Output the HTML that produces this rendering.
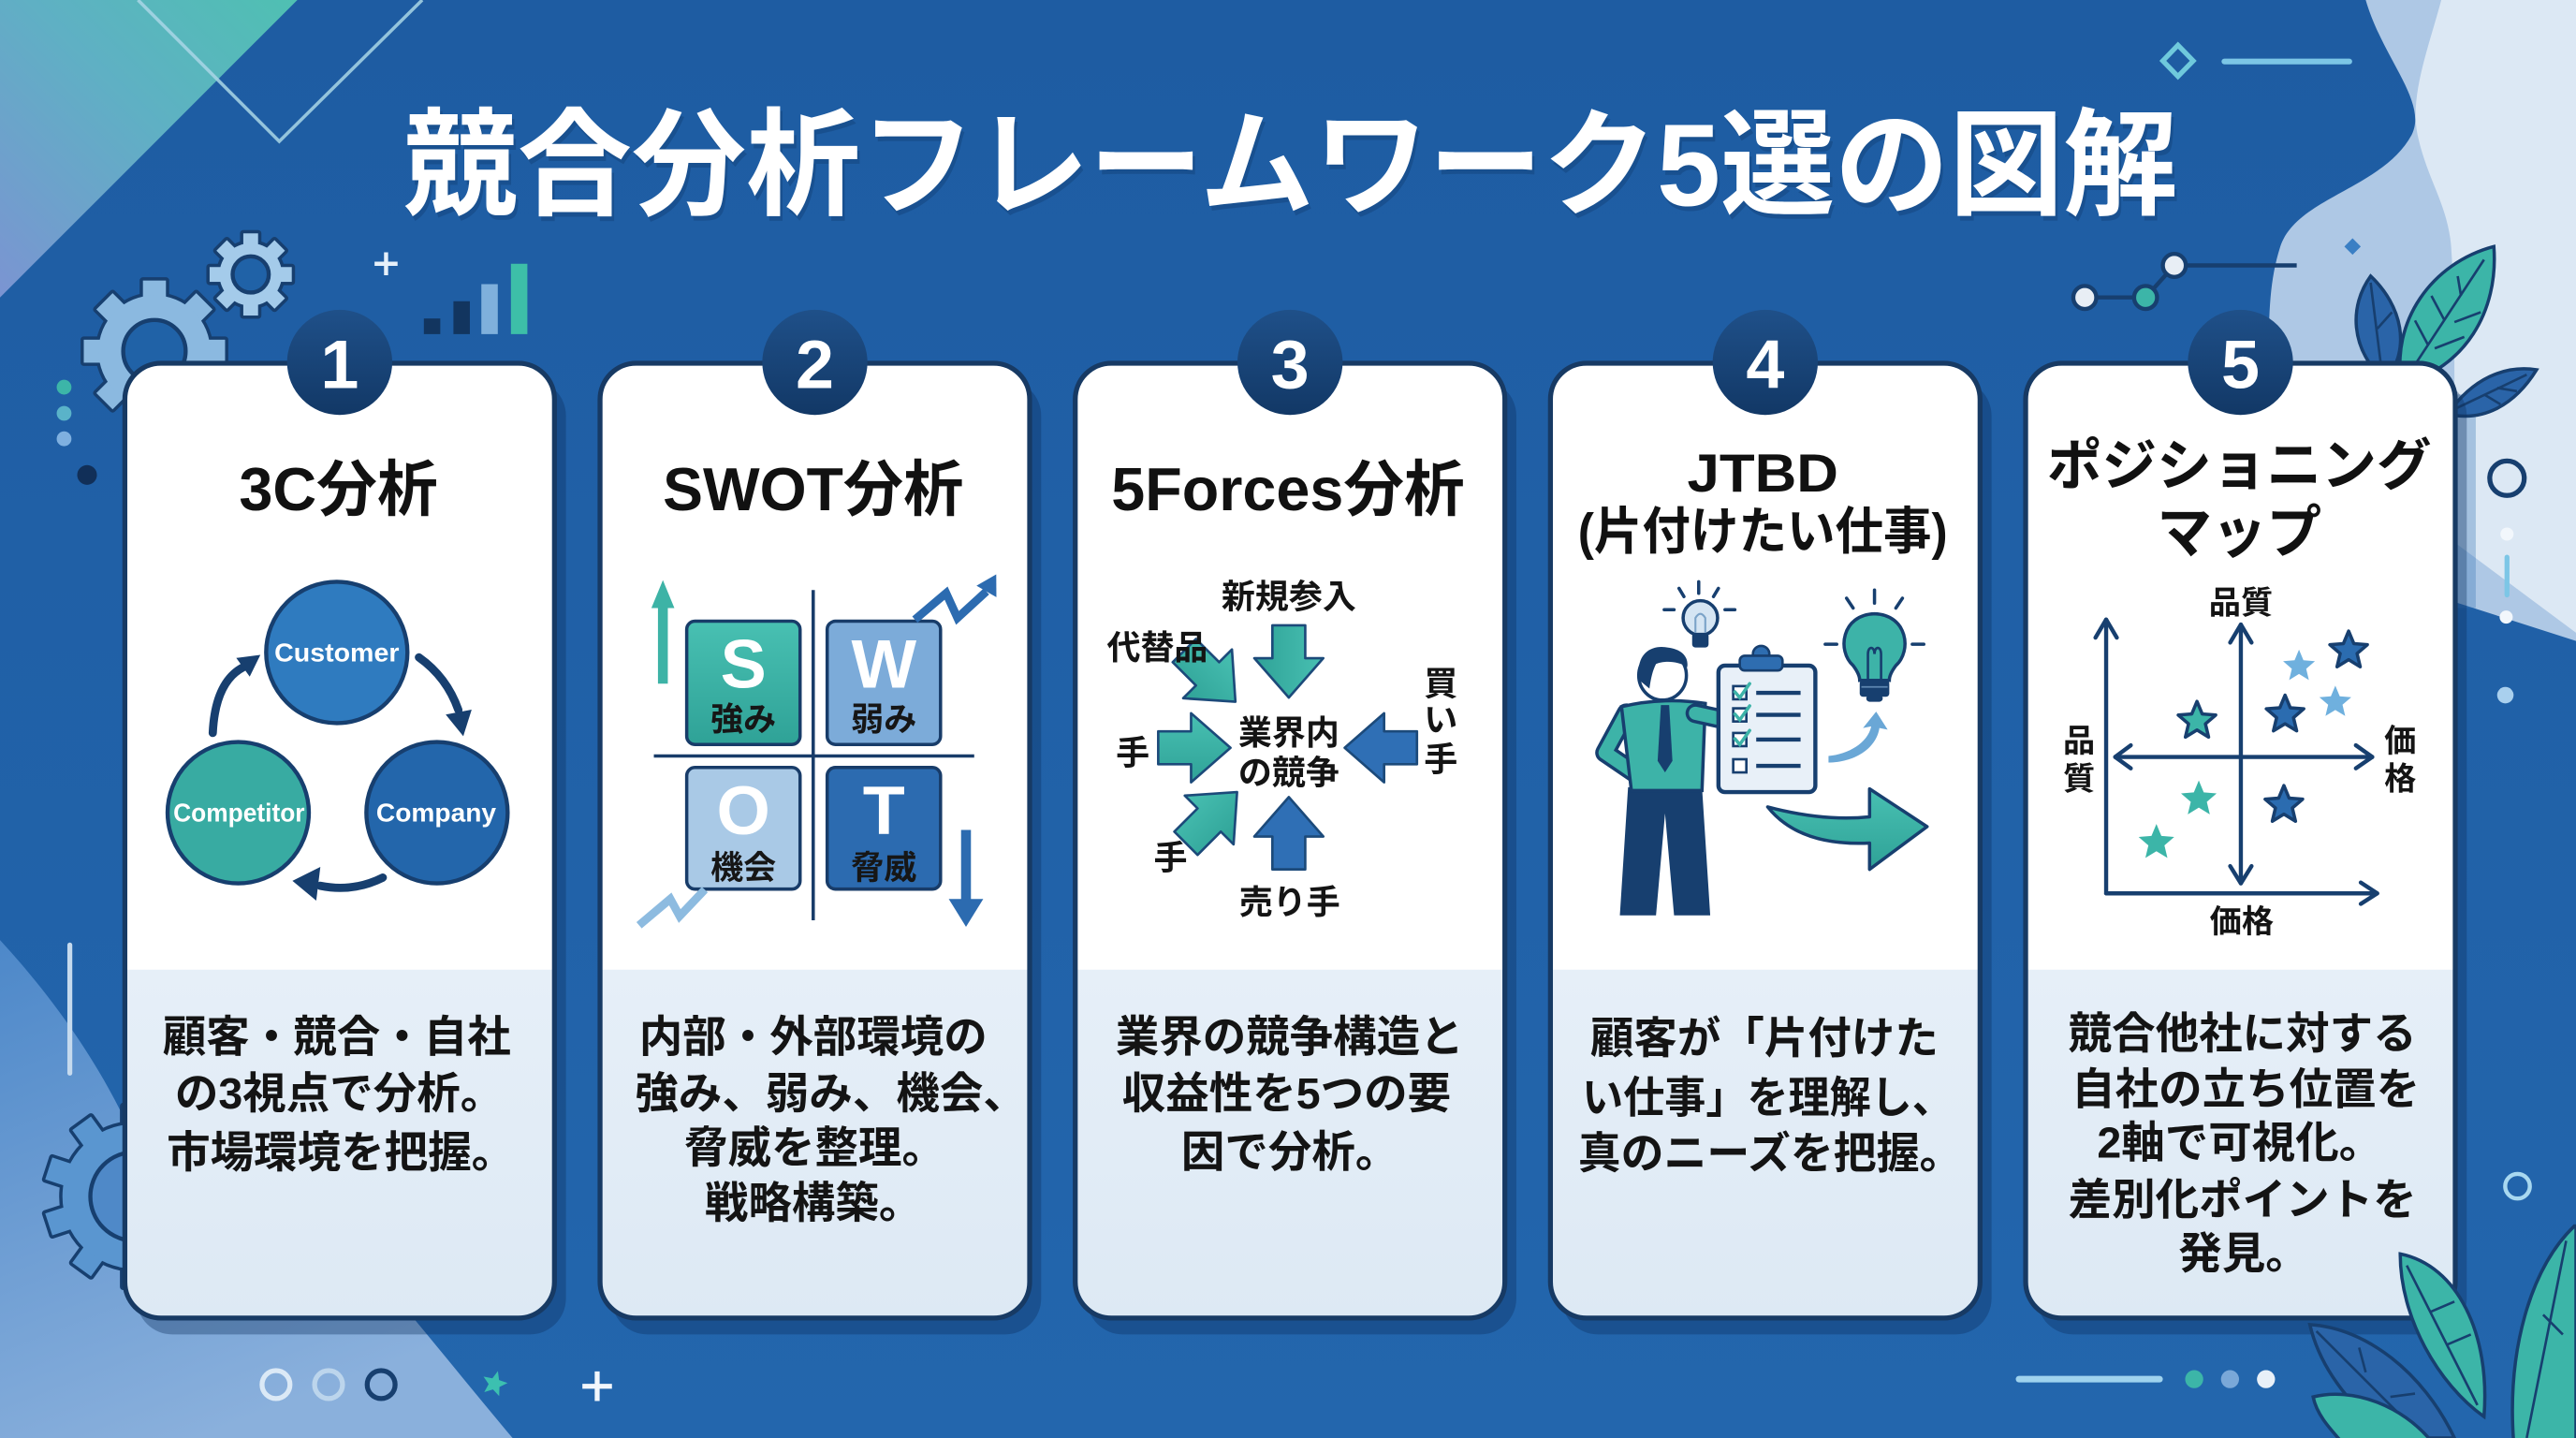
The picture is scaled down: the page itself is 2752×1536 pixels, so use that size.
<!DOCTYPE html>
<html><head><meta charset="utf-8">
<style>
html,body{margin:0;padding:0;background:#2062a7;overflow:hidden;}
svg{display:block;}
text{font-family:"Liberation Sans","Noto Sans CJK JP",sans-serif;font-weight:700;}
</style></head><body>
<svg width="2752" height="1536" viewBox="0 0 1568 875" preserveAspectRatio="none" xmlns="http://www.w3.org/2000/svg">
<defs>
<linearGradient id="bg" x1="0" y1="0" x2="0" y2="1"><stop offset="0" stop-color="#1e5ca2"/><stop offset="1" stop-color="#2366ad"/></linearGradient>
<linearGradient id="tl" x1="1" y1="0" x2="0" y2="1"><stop offset="0" stop-color="#4fc0b2"/><stop offset="0.45" stop-color="#5fb0c4"/><stop offset="1" stop-color="#7b94d2"/></linearGradient>
<linearGradient id="bl" x1="0" y1="0" x2="0.4" y2="1"><stop offset="0" stop-color="#4d88c9"/><stop offset="1" stop-color="#8ab0dc"/></linearGradient>
<linearGradient id="nc" x1="0" y1="0" x2="0" y2="1"><stop offset="0" stop-color="#1f5089"/><stop offset="1" stop-color="#123866"/></linearGradient>
<linearGradient id="teal" x1="0" y1="0" x2="0" y2="1"><stop offset="0" stop-color="#48c0b2"/><stop offset="1" stop-color="#2fa297"/></linearGradient>
<linearGradient id="lb" x1="0" y1="0" x2="0" y2="1"><stop offset="0" stop-color="#e6eff8"/><stop offset="1" stop-color="#dde9f4"/></linearGradient>
</defs>

<!-- background -->
<rect x="0" y="0" width="1568" height="875" fill="url(#bg)"/>
<polygon points="0,0 181,0 0,181" fill="url(#tl)"/>
<polyline points="84,0 170,86 257,0" fill="none" stroke="#a9d6e6" stroke-width="2" opacity="0.85"/>
<path d="M0,572 C35,610 62,650 80,690 L250,800 C275,830 295,855 312,875 L0,875 Z" fill="url(#bl)"/>
<!-- right light layers -->
<path d="M1440,0 C1450,35 1478,62 1468,82 C1450,115 1398,120 1388,150 C1380,175 1381,200 1381,240 L1381,330 L1568,390 L1568,0 Z" fill="#aec8e5"/>
<path d="M1486,0 C1478,30 1466,60 1472,84 C1478,110 1490,125 1492,150 C1494,180 1494,210 1494,240 L1494,330 L1568,385 L1568,0 Z" fill="#dce8f4"/>
<rect x="1494" y="240" width="13" height="130" fill="#3d78b8" opacity="0.35"/>

<!-- top-right decor -->
<polygon points="1325.7,27.5 1335,37 1325.7,46.5 1316.5,37" fill="none" stroke="#6fc9dc" stroke-width="3"/>
<line x1="1354" y1="37.4" x2="1430" y2="37.4" stroke="#7cc6e6" stroke-width="3.5" stroke-linecap="round"/>
<line x1="1269" y1="181" x2="1306" y2="181" stroke="#173f6f" stroke-width="2.5"/>
<line x1="1306" y1="181" x2="1323.5" y2="161.5" stroke="#173f6f" stroke-width="2.5"/>
<line x1="1323.5" y1="161.5" x2="1398" y2="161.5" stroke="#173f6f" stroke-width="2.5"/>
<circle cx="1269" cy="181" r="7" fill="#e8eef5" stroke="#173f6f" stroke-width="2.5"/>
<circle cx="1306" cy="181" r="7" fill="#3cb5a8" stroke="#173f6f" stroke-width="2.5"/>
<circle cx="1323.5" cy="161.5" r="7" fill="#e8eef5" stroke="#173f6f" stroke-width="2.5"/>
<polygon points="1432,145 1437,150 1432,155 1427,150" fill="#3a7fc4"/>

<!-- top-right leaves (behind card 5) -->
<path d="M1452,232 C1430,212 1430,186 1443,168 C1462,186 1468,212 1452,232 Z" fill="#2a64a8" stroke="#173f6f" stroke-width="2"/>
<path d="M1443,172 L1450,228 M1447,200 L1456,190" stroke="#173f6f" stroke-width="1.5" fill="none"/>
<path d="M1462,234 C1455,196 1480,160 1518,150 C1521,190 1500,224 1462,234 Z" fill="#3cb5a8" stroke="#173f6f" stroke-width="2"/>
<path d="M1466,228 L1512,158 M1478,210 L1470,195 M1488,195 L1480,180 M1498,180 L1496,168 M1482,212 L1500,205 M1494,196 L1510,190" stroke="#173f6f" stroke-width="1.5" fill="none"/>
<path d="M1490,252 C1505,230 1525,222 1544,225 C1531,246 1512,257 1490,252 Z" fill="#2a64a8" stroke="#173f6f" stroke-width="2"/>
<path d="M1494,249 L1538,228 M1512,240 L1522,246 M1520,236 L1532,238" stroke="#173f6f" stroke-width="1.5" fill="none"/>

<!-- right side decor -->
<circle cx="1526" cy="291" r="10.5" fill="none" stroke="#173f6f" stroke-width="3"/>
<circle cx="1526" cy="325" r="4" fill="#f2f7fc"/>
<line x1="1526" y1="339" x2="1526" y2="362" stroke="#7cc6e6" stroke-width="3" stroke-linecap="round"/>
<circle cx="1525.5" cy="375.5" r="4" fill="#f2f7fc"/>
<circle cx="1525" cy="423" r="5" fill="#a9d0ee"/>
<circle cx="1532.4" cy="721.8" r="7.5" fill="none" stroke="#a8d8f0" stroke-width="2.5"/>

<!-- top-left decor: dots, bars, plus -->
<circle cx="39" cy="235.6" r="4.5" fill="#3cb5a8"/>
<circle cx="39" cy="251.5" r="4.5" fill="#5ab3c9"/>
<circle cx="39" cy="267" r="4.5" fill="#7fb0e0"/>
<circle cx="53" cy="289" r="6" fill="#112f58"/>
<path d="M228,160.5 H242 M235,153.5 V167.5" stroke="#e6f0fa" stroke-width="2.5"/>
<rect x="258" y="193.8" width="10" height="9.5" fill="#12355f"/>
<rect x="276" y="183.3" width="10" height="20" fill="#12355f"/>
<rect x="293" y="172.9" width="10" height="30.4" fill="#7fb0dc"/>
<rect x="311" y="160.5" width="10" height="42.8" fill="#3dbfa8"/>

<!-- gears -->
<g transform="translate(152.6,167)" fill="#173f6f" stroke="#173f6f" stroke-width="4" stroke-linejoin="round">
<rect x="-4.5" y="-25" width="9" height="10" transform="rotate(0)"/><rect x="-4.5" y="-25" width="9" height="10" transform="rotate(45)"/><rect x="-4.5" y="-25" width="9" height="10" transform="rotate(90)"/><rect x="-4.5" y="-25" width="9" height="10" transform="rotate(135)"/><rect x="-4.5" y="-25" width="9" height="10" transform="rotate(180)"/><rect x="-4.5" y="-25" width="9" height="10" transform="rotate(225)"/><rect x="-4.5" y="-25" width="9" height="10" transform="rotate(270)"/><rect x="-4.5" y="-25" width="9" height="10" transform="rotate(315)"/>
<circle r="19"/>
</g>
<g transform="translate(152.6,167)" fill="#a4cbea">
<rect x="-4.5" y="-25" width="9" height="10" transform="rotate(0)"/><rect x="-4.5" y="-25" width="9" height="10" transform="rotate(45)"/><rect x="-4.5" y="-25" width="9" height="10" transform="rotate(90)"/><rect x="-4.5" y="-25" width="9" height="10" transform="rotate(135)"/><rect x="-4.5" y="-25" width="9" height="10" transform="rotate(180)"/><rect x="-4.5" y="-25" width="9" height="10" transform="rotate(225)"/><rect x="-4.5" y="-25" width="9" height="10" transform="rotate(270)"/><rect x="-4.5" y="-25" width="9" height="10" transform="rotate(315)"/>
<circle r="19"/>
<circle r="11" fill="#2062a7" stroke="#173f6f" stroke-width="2.5"/>
</g>

<g transform="translate(94,213.7)" fill="#173f6f" stroke="#173f6f" stroke-width="4" stroke-linejoin="round">
<rect x="-7" y="-43" width="14" height="14" transform="rotate(0)"/><rect x="-7" y="-43" width="14" height="14" transform="rotate(45)"/><rect x="-7" y="-43" width="14" height="14" transform="rotate(90)"/><rect x="-7" y="-43" width="14" height="14" transform="rotate(135)"/><rect x="-7" y="-43" width="14" height="14" transform="rotate(180)"/><rect x="-7" y="-43" width="14" height="14" transform="rotate(225)"/><rect x="-7" y="-43" width="14" height="14" transform="rotate(270)"/><rect x="-7" y="-43" width="14" height="14" transform="rotate(315)"/>
<circle r="34"/>
</g>
<g transform="translate(94,213.7)" fill="#8bb9e0">
<rect x="-7" y="-43" width="14" height="14" transform="rotate(0)"/><rect x="-7" y="-43" width="14" height="14" transform="rotate(45)"/><rect x="-7" y="-43" width="14" height="14" transform="rotate(90)"/><rect x="-7" y="-43" width="14" height="14" transform="rotate(135)"/><rect x="-7" y="-43" width="14" height="14" transform="rotate(180)"/><rect x="-7" y="-43" width="14" height="14" transform="rotate(225)"/><rect x="-7" y="-43" width="14" height="14" transform="rotate(270)"/><rect x="-7" y="-43" width="14" height="14" transform="rotate(315)"/>
<circle r="34"/>
<circle r="19" fill="#2062a7" stroke="#173f6f" stroke-width="2.5"/>
</g>

<g transform="translate(82,728)" fill="#173f6f" stroke="#173f6f" stroke-width="4" stroke-linejoin="round">
<rect x="-7" y="-55" width="14" height="15" transform="rotate(0)"/><rect x="-7" y="-55" width="14" height="15" transform="rotate(36)"/><rect x="-7" y="-55" width="14" height="15" transform="rotate(72)"/><rect x="-7" y="-55" width="14" height="15" transform="rotate(108)"/><rect x="-7" y="-55" width="14" height="15" transform="rotate(144)"/><rect x="-7" y="-55" width="14" height="15" transform="rotate(180)"/><rect x="-7" y="-55" width="14" height="15" transform="rotate(216)"/><rect x="-7" y="-55" width="14" height="15" transform="rotate(252)"/><rect x="-7" y="-55" width="14" height="15" transform="rotate(288)"/><rect x="-7" y="-55" width="14" height="15" transform="rotate(324)"/>
<circle r="44"/>
</g>
<g transform="translate(82,728)" fill="#5a96d0">
<rect x="-7" y="-55" width="14" height="15" transform="rotate(0)"/><rect x="-7" y="-55" width="14" height="15" transform="rotate(36)"/><rect x="-7" y="-55" width="14" height="15" transform="rotate(72)"/><rect x="-7" y="-55" width="14" height="15" transform="rotate(108)"/><rect x="-7" y="-55" width="14" height="15" transform="rotate(144)"/><rect x="-7" y="-55" width="14" height="15" transform="rotate(180)"/><rect x="-7" y="-55" width="14" height="15" transform="rotate(216)"/><rect x="-7" y="-55" width="14" height="15" transform="rotate(252)"/><rect x="-7" y="-55" width="14" height="15" transform="rotate(288)"/><rect x="-7" y="-55" width="14" height="15" transform="rotate(324)"/>
<circle r="44"/>
<circle r="27" fill="#4f89c8" stroke="#173f6f" stroke-width="2.5"/>
</g>
<line x1="42.5" y1="575" x2="42.5" y2="653" stroke="#c5daee" stroke-width="3" stroke-linecap="round"/>

<!-- title -->
<text x="787" y="128" font-size="71" fill="#0e3a6c" opacity="0.35" text-anchor="middle" textLength="1080" lengthAdjust="spacingAndGlyphs">競合分析フレームワーク5選の図解</text>
<text x="785.5" y="125" font-size="71" fill="#ffffff" text-anchor="middle" textLength="1080" lengthAdjust="spacingAndGlyphs">競合分析フレームワーク5選の図解</text>

<!-- card shadows -->
<g fill="#0c2f5c" opacity="0.35">
<rect x="83" y="231" width="261.5" height="581" rx="22"/>
<rect x="372.25" y="231" width="261.5" height="581" rx="22"/>
<rect x="661.5" y="231" width="261.5" height="581" rx="22"/>
<rect x="950.75" y="231" width="261.5" height="581" rx="22"/>
<rect x="1240" y="231" width="261.5" height="581" rx="22"/>
</g>
<!-- cards -->
<g fill="#ffffff">
<rect x="76" y="221" width="261.5" height="581" rx="22"/>
<rect x="365.25" y="221" width="261.5" height="581" rx="22"/>
<rect x="654.5" y="221" width="261.5" height="581" rx="22"/>
<rect x="943.75" y="221" width="261.5" height="581" rx="22"/>
<rect x="1233" y="221" width="261.5" height="581" rx="22"/>
</g>
<g fill="url(#lb)">
<path d="M76,590 H337.5 V780 A22,22 0 0 1 315.5,802 H98 A22,22 0 0 1 76,780 Z"/>
<path d="M365.25,590 H626.75 V780 A22,22 0 0 1 604.75,802 H387.25 A22,22 0 0 1 365.25,780 Z"/>
<path d="M654.5,590 H916 V780 A22,22 0 0 1 894,802 H676.5 A22,22 0 0 1 654.5,780 Z"/>
<path d="M943.75,590 H1205.25 V780 A22,22 0 0 1 1183.25,802 H965.75 A22,22 0 0 1 943.75,780 Z"/>
<path d="M1233,590 H1494.5 V780 A22,22 0 0 1 1472.5,802 H1255 A22,22 0 0 1 1233,780 Z"/>
</g>
<g fill="none" stroke="#173a64" stroke-width="3">
<rect x="76" y="221" width="261.5" height="581" rx="22"/>
<rect x="365.25" y="221" width="261.5" height="581" rx="22"/>
<rect x="654.5" y="221" width="261.5" height="581" rx="22"/>
<rect x="943.75" y="221" width="261.5" height="581" rx="22"/>
<rect x="1233" y="221" width="261.5" height="581" rx="22"/>
</g>

<!-- number circles -->
<g fill="url(#nc)">
<circle cx="206.75" cy="220.5" r="32"/>
<circle cx="496" cy="220.5" r="32"/>
<circle cx="785.25" cy="220.5" r="32"/>
<circle cx="1074.5" cy="220.5" r="32"/>
<circle cx="1363.75" cy="220.5" r="32"/>
</g>
<g fill="#ffffff" font-size="42" text-anchor="middle">
<text x="206.75" y="236">1</text>
<text x="496" y="236">2</text>
<text x="785.25" y="236">3</text>
<text x="1074.5" y="236">4</text>
<text x="1363.75" y="236">5</text>
</g>

<!-- card titles -->
<g fill="#111111" text-anchor="middle">
<text x="206" y="310.5" font-size="37" textLength="121" lengthAdjust="spacingAndGlyphs">3C分析</text>
<text x="495" y="310.5" font-size="37" textLength="183" lengthAdjust="spacingAndGlyphs">SWOT分析</text>
<text x="784" y="310.5" font-size="37" textLength="215" lengthAdjust="spacingAndGlyphs">5Forces分析</text>
<text x="1073" y="299" font-size="33" textLength="92" lengthAdjust="spacingAndGlyphs">JTBD</text>
<text x="1073" y="334" font-size="31" textLength="225" lengthAdjust="spacingAndGlyphs">(片付けたい仕事)</text>
<text x="1363" y="295" font-size="34" textLength="234" lengthAdjust="spacingAndGlyphs">ポジショニング</text>
<text x="1363" y="336" font-size="35" textLength="100" lengthAdjust="spacingAndGlyphs">マップ</text>
</g>

<!-- Card 1: 3C -->
<circle cx="205" cy="397" r="43" fill="#2f7bbf" stroke="#173f6f" stroke-width="2.5"/>
<circle cx="145" cy="494.5" r="43" fill="#38aba2" stroke="#173f6f" stroke-width="2.5"/>
<circle cx="266" cy="494.5" r="43" fill="#2366ab" stroke="#173f6f" stroke-width="2.5"/>
<g fill="#ffffff" font-size="16" text-anchor="middle">
<text x="205" y="402.5" textLength="76" lengthAdjust="spacingAndGlyphs">Customer</text>
<text x="145.5" y="500" textLength="80" lengthAdjust="spacingAndGlyphs">Competitor</text>
<text x="265.5" y="500" textLength="73" lengthAdjust="spacingAndGlyphs">Company</text>
</g>
<g fill="none" stroke="#173f6f" stroke-width="5" stroke-linecap="round">
<path d="M129.5,446 Q131,415 148,406"/>
<path d="M255,400 Q272,412 279,432"/>
<path d="M233,534 Q215,543 195,539"/>
</g>
<g fill="#173f6f">
<polygon points="158.5,398.5 152,411.75 143.8,400.35"/>
<polygon points="282,448 287.1,431.8 271.3,434.8"/>
<polygon points="178,536 195,527.5 192.5,548"/>
</g>

<!-- Card 2: SWOT -->
<line x1="495" y1="359" x2="495" y2="560" stroke="#183c69" stroke-width="2"/>
<line x1="398" y1="460" x2="593" y2="460" stroke="#183c69" stroke-width="2"/>
<rect x="418" y="378" width="69" height="75" rx="5" fill="url(#teal)" stroke="#183c69" stroke-width="2"/>
<rect x="503.5" y="378" width="69" height="75" rx="5" fill="#7cabd9" stroke="#183c69" stroke-width="2"/>
<rect x="418" y="467" width="69" height="74" rx="5" fill="#a9c9e6" stroke="#183c69" stroke-width="2"/>
<rect x="503.5" y="467" width="69" height="74" rx="5" fill="#2c6bb0" stroke="#183c69" stroke-width="2"/>
<g fill="#ffffff" font-size="42" text-anchor="middle">
<text x="452.5" y="418.5">S</text>
<text x="538" y="418.5">W</text>
<text x="452.5" y="507.5">O</text>
<text x="538" y="507.5">T</text>
</g>
<g fill="#161616" font-size="20" text-anchor="middle">
<text x="452.5" y="444.5">強み</text>
<text x="538" y="444.5">弱み</text>
<text x="452.5" y="535">機会</text>
<text x="538" y="535">脅威</text>
</g>
<rect x="400.5" y="366" width="6" height="50" fill="#3db3a6"/>
<polygon points="396.5,370 403.5,353 410.5,370" fill="#3db3a6"/>
<rect x="585" y="505" width="6" height="45" fill="#2c6bb0"/>
<polygon points="577.5,547 598.5,547 588,564" fill="#2c6bb0"/>
<polyline points="556.9,377 575.9,360.9 582.8,376 600.4,359.9" fill="none" stroke="#2c6bb0" stroke-width="5" stroke-linejoin="miter"/>
<polygon points="606.4,349.5 606.5,363.4 594.4,356.4" fill="#2c6bb0"/>
<polyline points="389,563 408,547 413.7,557.4 429,541.3" fill="none" stroke="#8dbbe0" stroke-width="5"/>

<!-- Card 3: 5 Forces -->
<g stroke="#1c4a7a" stroke-width="1.5" stroke-linejoin="round">
<polygon points="-44,-10 -24,-10 -24,-21 0,0 -24,21 -24,10 -44,10" fill="url(#teal)" transform="translate(784.5,424.5) rotate(90)"/>
<polygon points="-44,-10 -24,-10 -24,-21 0,0 -24,21 -24,10 -44,10" fill="url(#teal)" transform="translate(752,427) rotate(45)"/>
<polygon points="-44,-10 -24,-10 -24,-21 0,0 -24,21 -24,10 -44,10" fill="url(#teal)" transform="translate(749,455)"/>
<polygon points="-44,-10 -24,-10 -24,-21 0,0 -24,21 -24,10 -44,10" fill="url(#teal)" transform="translate(753,482) rotate(-45)"/>
<polygon points="-44,-10 -24,-10 -24,-21 0,0 -24,21 -24,10 -44,10" fill="#2f6fb5" transform="translate(818.5,455) rotate(180)"/>
<polygon points="-44,-10 -24,-10 -24,-21 0,0 -24,21 -24,10 -44,10" fill="#2f6fb5" transform="translate(784.5,485) rotate(-90)"/>
</g>
<g fill="#141414" font-size="20.5" text-anchor="middle">
<text x="784.5" y="370">新規参入</text>
<text x="704.5" y="401">代替品</text>
<text x="689.5" y="465">手</text>
<text x="784.5" y="453">業界内</text>
<text x="784.5" y="477">の競争</text>
<text x="877" y="423">買</text>
<text x="877" y="445">い</text>
<text x="877" y="469">手</text>
<text x="712.5" y="529">手</text>
<text x="785" y="556">売り手</text>
</g>

<!-- Card 4: JTBD -->
<g stroke="#173f6f" stroke-width="2" stroke-linecap="round">
<line x1="1034" y1="354" x2="1034" y2="361"/>
<line x1="1022" y1="358" x2="1025" y2="363"/>
<line x1="1046" y1="358" x2="1043" y2="363"/>
<line x1="1013" y1="371" x2="1019" y2="371"/>
<line x1="1050" y1="371" x2="1056" y2="371"/>
<line x1="1141" y1="359" x2="1141" y2="367"/>
<line x1="1124" y1="364" x2="1128" y2="370"/>
<line x1="1158" y1="364" x2="1154" y2="370"/>
<line x1="1111" y1="392" x2="1118" y2="392"/>
<line x1="1164" y1="392" x2="1171" y2="392"/>
</g>
<circle cx="1035" cy="376" r="10.5" fill="#d5e5f3" stroke="#173f6f" stroke-width="2"/>
<rect x="1030" y="385" width="10" height="9" rx="2" fill="#173f6f"/>
<path d="M1032,385 L1032,376 Q1035,371 1038,376 L1038,385" fill="none" stroke="#7ba3c8" stroke-width="1.2"/>
<path d="M1128,405 C1118,396 1121,374 1141,373.5 C1161,374 1164,396 1154,405 C1151,409 1150,412 1150,414 L1132,414 C1132,412 1131,409 1128,405 Z" fill="#3db3a8" stroke="#173f6f" stroke-width="2"/>
<path d="M1137,414 L1137,398 C1137,393 1141,393 1141,398 C1141,393 1145,393 1145,398 L1145,414" fill="none" stroke="#173f6f" stroke-width="1.5"/>
<rect x="1132" y="414" width="18" height="10" rx="2" fill="#173f6f"/>
<line x1="1133" y1="418" x2="1149" y2="418" stroke="#5e86b0" stroke-width="1"/>
<rect x="1136" y="423" width="10" height="4" rx="2" fill="#173f6f"/>
<path d="M1113,460 C1125,459 1137,452 1139,442 L1134,443 L1142,433 L1149,444 L1144,443 C1142,456 1128,464 1113,464 Z" fill="#6aa7d6"/>
<path d="M1076,491 Q1110,500 1138,497 L1138,480 L1173,503 L1138,529 L1138,513 Q1095,515 1076,491 Z" fill="url(#teal)" stroke="#173f6f" stroke-width="2" stroke-linejoin="round"/>
<!-- person -->
<polyline points="990,434 977,458 999,473" fill="none" stroke="#173f6f" stroke-width="12" stroke-linejoin="round" stroke-linecap="round"/>
<polyline points="990,434 977,458 999,473" fill="none" stroke="#3db3a8" stroke-width="8" stroke-linejoin="round" stroke-linecap="round"/>
<path d="M991,479 L1036,479 L1041,557 L1019,557 L1013.5,495 L1008,557 L986,557 Z" fill="#173f6f"/>
<path d="M987,430 Q1012,424 1038,428 L1036,481 L993,481 Z" fill="#3db3a8" stroke="#173f6f" stroke-width="2"/>
<line x1="1032" y1="434" x2="1050" y2="438" stroke="#173f6f" stroke-width="12" stroke-linecap="round"/>
<line x1="1032" y1="434" x2="1050" y2="438" stroke="#3db3a8" stroke-width="8" stroke-linecap="round"/>
<polygon points="1011,429 1016,429 1018,463 1013.5,470 1009,463" fill="#173f6f"/>
<ellipse cx="1012" cy="411" rx="14.5" ry="15" fill="#ffffff" stroke="#173f6f" stroke-width="2"/>
<path d="M998,414 C995,398 1005,392 1015,394 C1024,395 1028,400 1027,406 C1021,402 1013,402 1008,404 C1006,408 1005,412 1004,419 Z" fill="#173f6f"/>
<!-- clipboard -->
<rect x="1046" y="405" width="59" height="77" rx="4" fill="#e8f0f8" stroke="#173f6f" stroke-width="2.5"/>
<circle cx="1072" cy="398" r="5" fill="#2e6db0" stroke="#173f6f" stroke-width="1.5"/>
<rect x="1059" y="399" width="26" height="9" rx="3" fill="#2e6db0" stroke="#173f6f" stroke-width="1.5"/>
<g fill="#ffffff" stroke="#173f6f" stroke-width="1.5">
<rect x="1055" y="417.5" width="8" height="8"/>
<rect x="1055" y="431" width="8" height="8"/>
<rect x="1055" y="446" width="8" height="8"/>
<rect x="1055" y="462" width="8" height="8"/>
</g>
<g fill="none" stroke="#3db3a8" stroke-width="2" stroke-linecap="round">
<polyline points="1056,421 1059,424.5 1065,416"/>
<polyline points="1056,434.5 1059,438 1065,429.5"/>
<polyline points="1056,449.5 1059,453 1065,444.5"/>
</g>
<g stroke="#173f6f" stroke-width="2.5">
<line x1="1069" y1="421.6" x2="1096" y2="421.6"/>
<line x1="1069" y1="435" x2="1096" y2="435"/>
<line x1="1069" y1="450" x2="1096" y2="450"/>
<line x1="1069" y1="466" x2="1096" y2="466"/>
</g>

<!-- Card 5: positioning map -->
<g fill="none" stroke="#173f6f" stroke-width="2.5" stroke-linecap="round" stroke-linejoin="round">
<line x1="1282" y1="377" x2="1282" y2="543.6"/>
<polyline points="1275.5,388 1282,377 1288.5,388"/>
<line x1="1282" y1="543.6" x2="1447" y2="543.6"/>
<polyline points="1437,537 1447,543.6 1437,550"/>
<line x1="1364" y1="380" x2="1364" y2="537.5"/>
<polyline points="1357.5,391 1364,380 1370.5,391"/>
<polyline points="1357.5,527 1364,537.5 1370.5,527"/>
<line x1="1287.5" y1="460.6" x2="1444" y2="460.6"/>
<polyline points="1297,453.5 1287.5,460.6 1297,467.5"/>
<polyline points="1434,453.5 1444,460.6 1434,467.5"/>
</g>
<g fill="#141414" font-size="19.5" text-anchor="middle">
<text x="1364" y="373.5">品質</text>
<text x="1265.5" y="457.5">品</text>
<text x="1265.5" y="480.5">質</text>
<text x="1461" y="457.5">価</text>
<text x="1461" y="480.5">格</text>
<text x="1364.5" y="567.5">価格</text>
</g>
<g stroke-linejoin="round">
<polygon points="0,-12 3.17,-4.37 11.41,-3.71 5.14,1.67 7.06,9.71 0,5.4 -7.06,9.71 -5.14,1.67 -11.41,-3.71 -3.17,-4.37" transform="translate(1429.6,396)" fill="#2b6cb0" stroke="#173f6f" stroke-width="2"/>
<polygon points="0,-12 3.17,-4.37 11.41,-3.71 5.14,1.67 7.06,9.71 0,5.4 -7.06,9.71 -5.14,1.67 -11.41,-3.71 -3.17,-4.37" transform="translate(1399.4,405.5) scale(0.85)" fill="#6fb0de"/>
<polygon points="0,-12 3.17,-4.37 11.41,-3.71 5.14,1.67 7.06,9.71 0,5.4 -7.06,9.71 -5.14,1.67 -11.41,-3.71 -3.17,-4.37" transform="translate(1421.5,427.4) scale(0.85)" fill="#6fb0de"/>
<polygon points="0,-12 3.17,-4.37 11.41,-3.71 5.14,1.67 7.06,9.71 0,5.4 -7.06,9.71 -5.14,1.67 -11.41,-3.71 -3.17,-4.37" transform="translate(1390.9,435)" fill="#2b6cb0" stroke="#173f6f" stroke-width="2"/>
<polygon points="0,-12 3.17,-4.37 11.41,-3.71 5.14,1.67 7.06,9.71 0,5.4 -7.06,9.71 -5.14,1.67 -11.41,-3.71 -3.17,-4.37" transform="translate(1337.3,438.8)" fill="#3cb5a8" stroke="#173f6f" stroke-width="2"/>
<polygon points="0,-12 3.17,-4.37 11.41,-3.71 5.14,1.67 7.06,9.71 0,5.4 -7.06,9.71 -5.14,1.67 -11.41,-3.71 -3.17,-4.37" transform="translate(1338.4,486.3) scale(0.95)" fill="#3cb5a8"/>
<polygon points="0,-12 3.17,-4.37 11.41,-3.71 5.14,1.67 7.06,9.71 0,5.4 -7.06,9.71 -5.14,1.67 -11.41,-3.71 -3.17,-4.37" transform="translate(1390.2,490)" fill="#2b6cb0" stroke="#173f6f" stroke-width="2"/>
<polygon points="0,-12 3.17,-4.37 11.41,-3.71 5.14,1.67 7.06,9.71 0,5.4 -7.06,9.71 -5.14,1.67 -11.41,-3.71 -3.17,-4.37" transform="translate(1312.6,512.8) scale(0.95)" fill="#3cb5a8"/>
</g>

<!-- descriptions -->
<g fill="#141414" font-size="26.5">
<text x="99" y="640">顧客・競合・自社</text>
<text x="106.5" y="674.5">の3視点で分析。</text>
<text x="101.5" y="710.5">市場環境を把握。</text>

<text x="389" y="640">内部・外部環境の</text>
<text x="386.5" y="674.5">強み、弱み、機会、</text>
<text x="416.5" y="707.5">脅威を整理。</text>
<text x="429" y="741">戦略構築。</text>

<text x="679" y="640">業界の競争構造と</text>
<text x="683" y="674.5">収益性を5つの要</text>
<text x="719" y="710">因で分析。</text>

<text x="968" y="641">顧客が「片付けた</text>
<text x="963" y="677" textLength="226" lengthAdjust="spacingAndGlyphs">い仕事」を理解し、</text>
<text x="960.5" y="711" textLength="234" lengthAdjust="spacingAndGlyphs">真のニーズを把握。</text>

<text x="1259" y="638">競合他社に対する</text>
<text x="1261" y="672">自社の立ち位置を</text>
<text x="1276.5" y="704.5">2軸で可視化。</text>
<text x="1259" y="739">差別化ポイントを</text>
<text x="1326" y="772">発見。</text>
</g>

<!-- bottom-right leaves (front) -->
<path d="M1406,806 C1440,808 1475,835 1494,875 L1455,875 C1430,855 1412,832 1406,806 Z" fill="#2a64a8" stroke="#173f6f" stroke-width="2"/>
<path d="M1410,810 L1475,875 M1440,835 L1436,820 M1455,850 L1470,848" stroke="#173f6f" stroke-width="1.5" fill="none"/>
<path d="M1461,763 C1496,770 1516,812 1512,862 C1484,842 1461,802 1461,763 Z" fill="#3cb5a8" stroke="#173f6f" stroke-width="2"/>
<path d="M1465,770 L1508,855 M1480,798 L1494,792 M1490,818 L1504,812" stroke="#173f6f" stroke-width="1.5" fill="none"/>
<path d="M1567,746 C1540,772 1526,822 1530,877 L1568,877 L1568,746 Z" fill="#3cb5a8" stroke="#173f6f" stroke-width="2"/>
<path d="M1562,755 L1538,875 M1548,800 L1560,812" stroke="#173f6f" stroke-width="1.5" fill="none"/>
<path d="M1408,850 C1432,844 1462,855 1480,877 L1425,877 C1417,868 1410,860 1408,850 Z" fill="#3cb5a8" stroke="#173f6f" stroke-width="2"/>

<!-- bottom decor -->
<line x1="1229" y1="839.2" x2="1314.5" y2="839.2" stroke="#9fd3ee" stroke-width="4" stroke-linecap="round"/>
<circle cx="1335.6" cy="839.2" r="5.5" fill="#3cb5a8"/>
<circle cx="1357.4" cy="839.2" r="5.5" fill="#7aa8d8"/>
<circle cx="1379.3" cy="839.2" r="5.5" fill="#e8f0f8"/>
<circle cx="168" cy="842.5" r="8.5" fill="none" stroke="#dbe9f6" stroke-width="3"/>
<circle cx="200" cy="842.5" r="8.5" fill="none" stroke="#bcd5ec" stroke-width="3"/>
<circle cx="232" cy="842.5" r="8.5" fill="none" stroke="#173f6f" stroke-width="3"/>
<polygon points="0,-8 2.1,-2.9 7.6,-2.5 3.4,1.1 4.7,6.5 0,3.6 -4.7,6.5 -3.4,1.1 -7.6,-2.5 -2.1,-2.9" transform="translate(301,842) rotate(15)" fill="#3cc0b0"/>
<path d="M354.5,843.5 H372.5 M363.5,834.5 V852.5" stroke="#f2f7fc" stroke-width="3"/>
</svg>
</body></html>
